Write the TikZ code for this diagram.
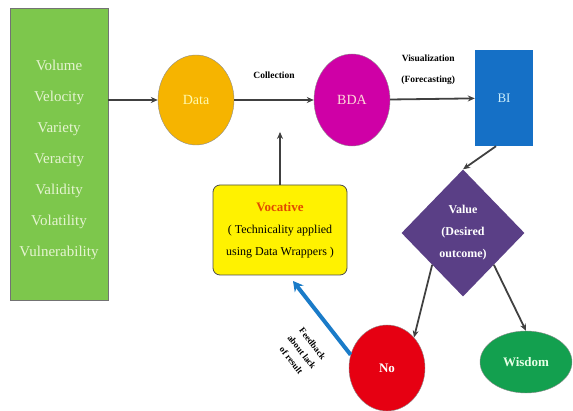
\documentclass[tikz,border=0pt]{standalone}
\usepackage{fontspec}
\setmainfont{Liberation Serif}
\usetikzlibrary{shapes.geometric,arrows.meta}

\definecolor{vgreen}{HTML}{7DC74C}
\definecolor{vtext}{HTML}{E6F4D2}
\definecolor{datacol}{HTML}{F6B400}
\definecolor{bdacol}{HTML}{CF00A6}
\definecolor{bicol}{HTML}{1570C6}
\definecolor{valcol}{HTML}{5A3F86}
\definecolor{nocol}{HTML}{E60012}
\definecolor{wiscol}{HTML}{13A04F}
\definecolor{fbblue}{HTML}{1A7BC8}
\definecolor{voctext}{HTML}{E24A00}

\begin{document}
\begin{tikzpicture}[x=1pt, y=-1pt,
    flow/.style={draw=black!75, line width=1.8pt, -{Stealth[length=7pt,width=6pt]}},
    blob/.style={ellipse, draw=black!45, font=\fontsize{14}{16}\selectfont}]
  \useasboundingbox (0,0) rectangle (573,411);

  \node (vs) [rectangle, draw=black!55, fill=vgreen, minimum width=98pt, minimum height=292pt, text=vtext, align=center, font=\fontsize{15}{31}\selectfont] at (59,154)
    {\\[-8pt]Volume\\ Velocity\\ Variety\\ Veracity\\ Validity\\ Volatility\\ Vulnerability};

  \node (data) [blob, fill=datacol, text=yellow!30, minimum width=76pt, minimum height=90pt] at (196,100) {Data};
  \node (bda) [blob, fill=bdacol, text=pink!60, minimum width=76pt, minimum height=92pt] at (352,100) {BDA};
  \node (bi) [rectangle, fill=bicol, text=cyan!20, minimum width=58pt, minimum height=96pt, font=\fontsize{13}{15}\selectfont] at (504,98) {BI};

  \node (val) [diamond, fill=valcol, text=white, minimum width=123pt, minimum height=127pt, inner sep=0pt, align=center, font=\bfseries\fontsize{12}{22}\selectfont] at (463,233)
    {Value\\ (Desired\\ outcome)};
  \node (no) [blob, fill=nocol, text=white, minimum width=76pt, minimum height=86pt, font=\bfseries\fontsize{13}{15}\selectfont] at (387,368) {No};
  \node (wis) [blob, fill=wiscol, text=green!10, minimum width=92pt, minimum height=62pt, font=\bfseries\fontsize{13}{15}\selectfont] at (526,362) {Wisdom};

  \node (voc) [rectangle, rounded corners=7pt, draw=black!70, line width=0.8pt, fill=yellow, minimum width=134pt, minimum height=90pt, align=center, font=\fontsize{12}{22}\selectfont] at (280,230)
    {{\color{voctext}\bfseries\fontsize{13}{22}\selectfont Vocative}\\ ( Technicality applied\\ using Data Wrappers )};

  \coordinate (fbend) at (293,281);

  \draw[flow] (vs.east |- data.west) -- (data.west);
  \draw[flow] (data) -- node[above=17pt, font=\bfseries\fontsize{9.5}{11}\selectfont] {Collection} (bda);
  \draw[flow] (voc.north) -- (voc.north |- data.south east);
  \draw[flow] (bda) -- node[above=10pt, pos=0.45, align=center, font=\bfseries\fontsize{9.5}{21}\selectfont] {Visualization\\ (Forecasting)} (bi);
  \draw[flow] ([xshift=-8pt]bi.south) -- (val.north);
  \draw[flow] (val.south west) -- (no.north east);
  \draw[flow] (val.south east) -- (wis.north);
  \draw[draw=fbblue, line width=4pt, -{Stealth[length=10pt,width=11pt]}] (no.160) -- (fbend);

  \node (fblab) [rotate=-52, align=center, font=\bfseries\fontsize{9}{13.5}\selectfont] at (302,352)
    {Feedback\\ about lack\\ of result};
\end{tikzpicture}
\end{document}
